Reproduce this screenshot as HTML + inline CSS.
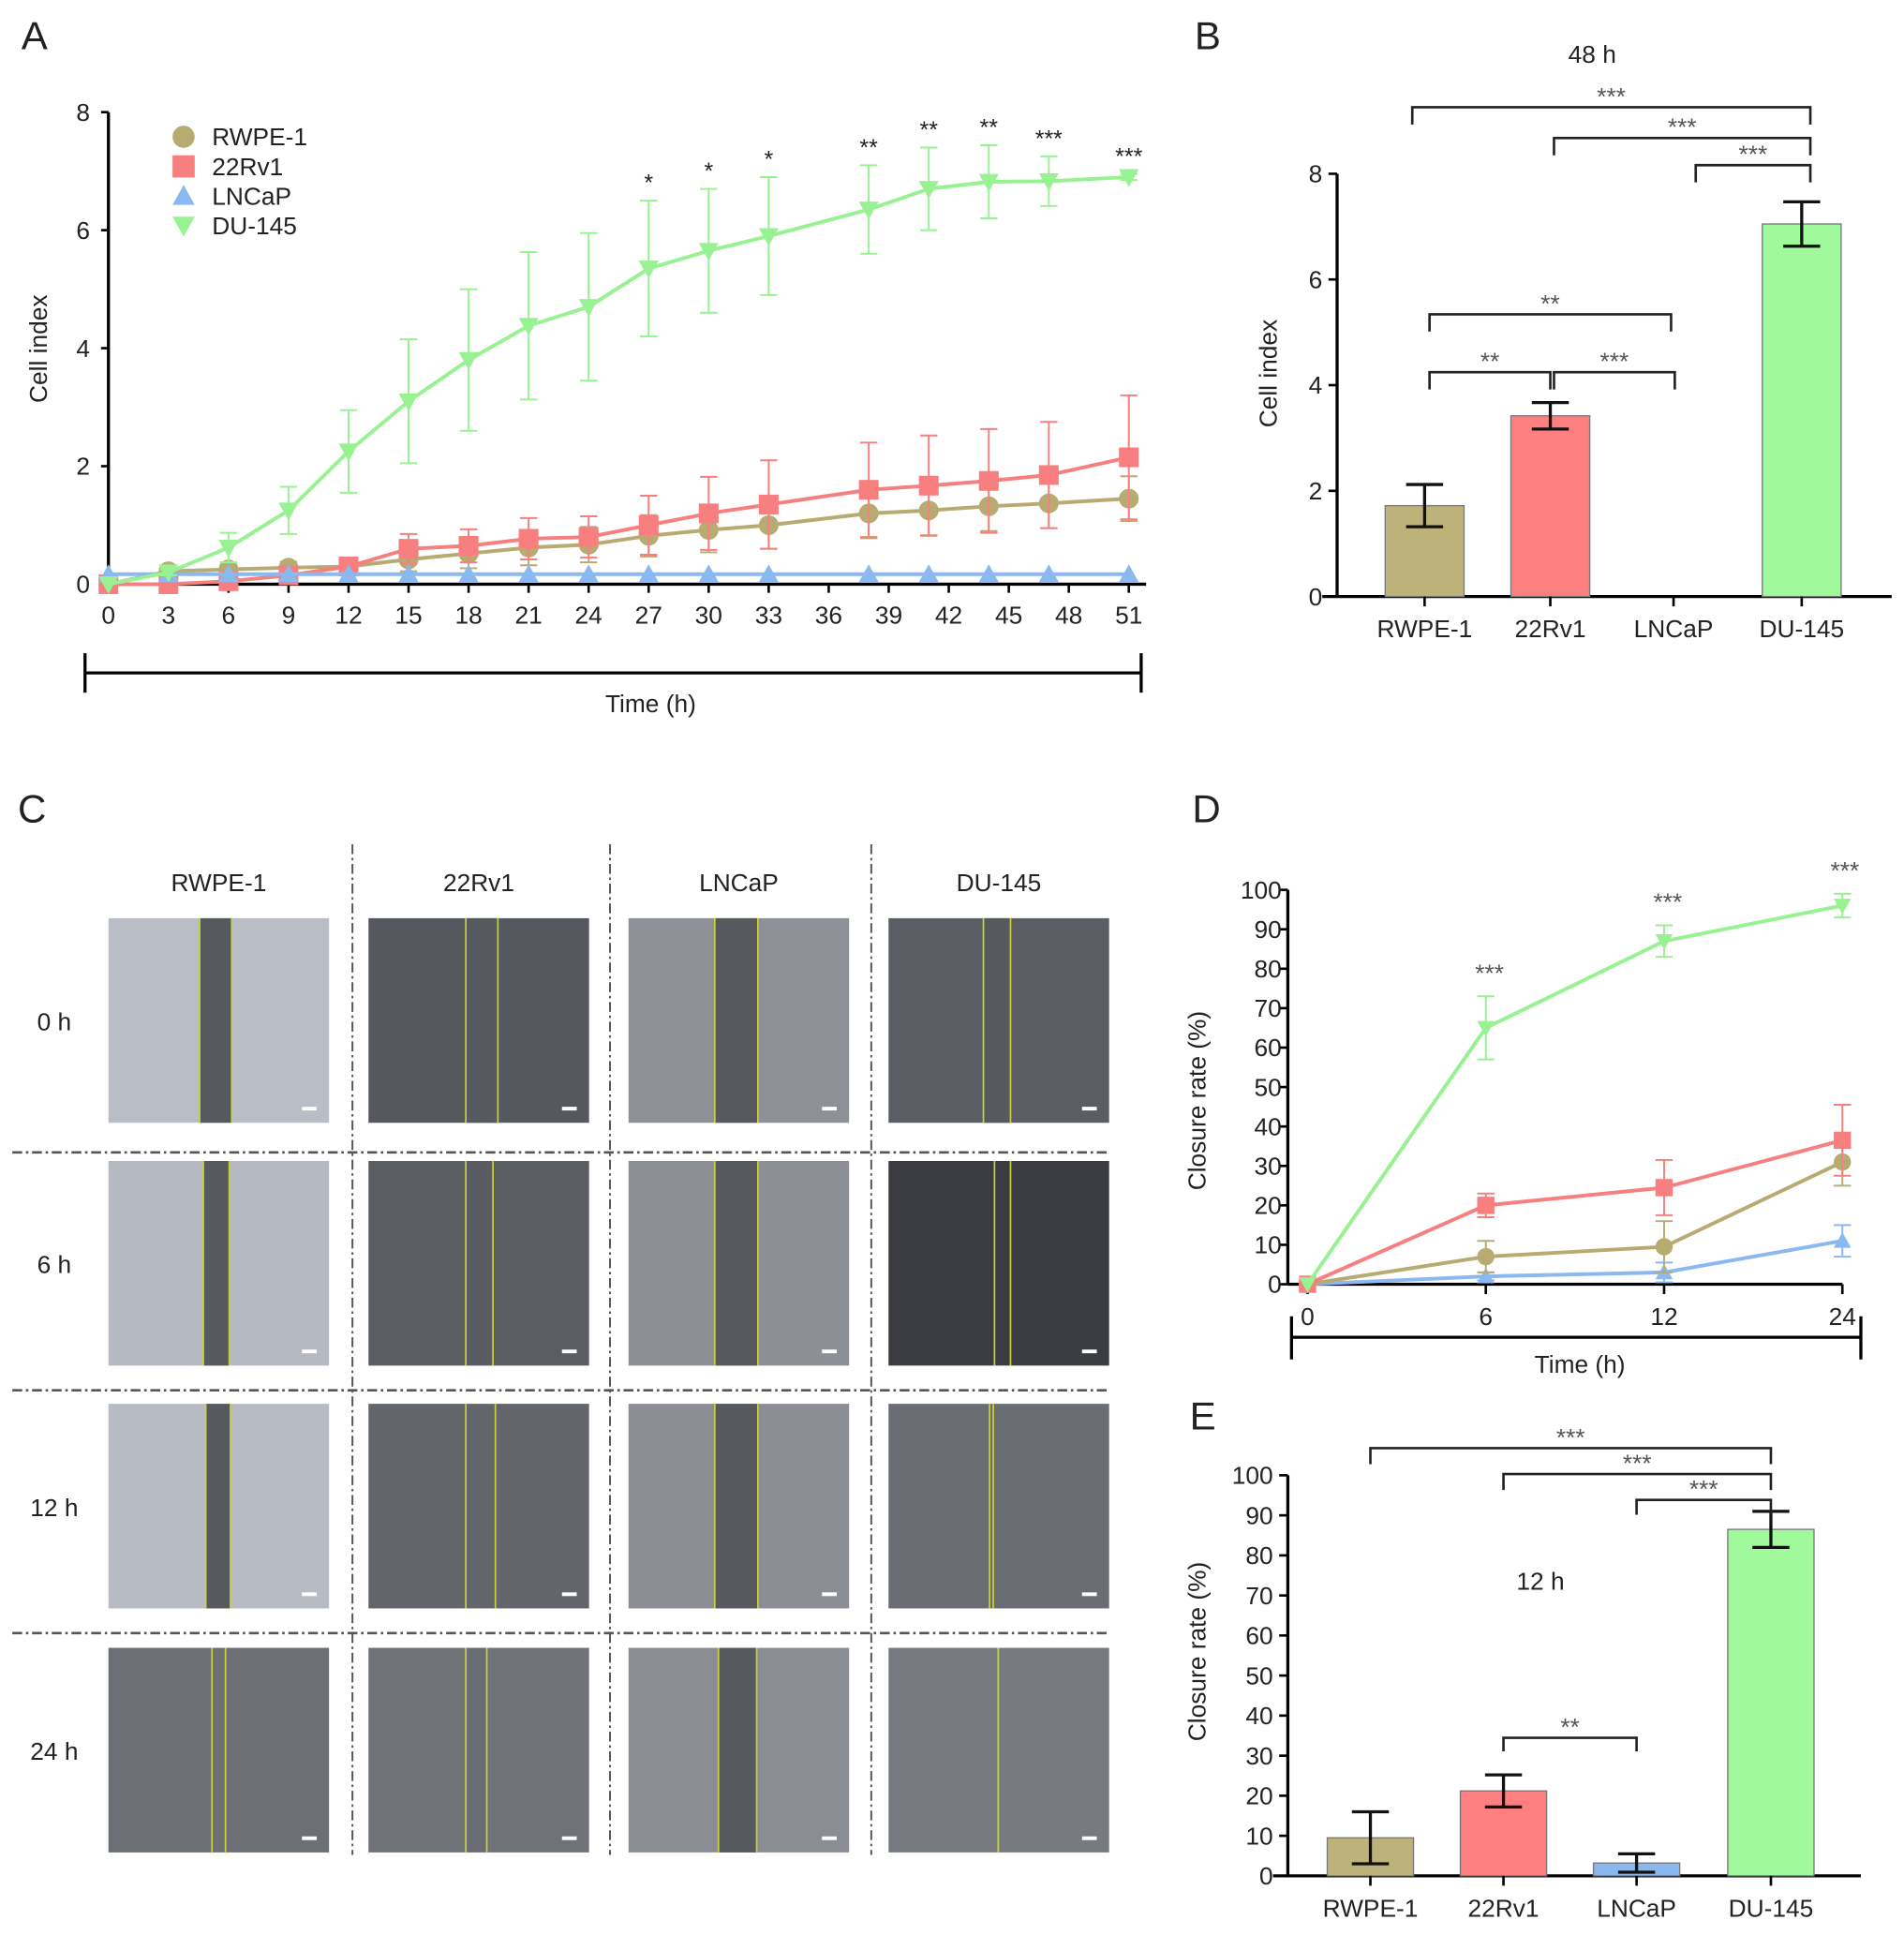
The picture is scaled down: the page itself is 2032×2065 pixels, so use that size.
<!DOCTYPE html>
<html><head><meta charset="utf-8"><style>
html,body{margin:0;padding:0;background:#fff;}
svg{display:block;font-family:"Liberation Sans",Arial,sans-serif;}
</style></head><body>
<svg id="fig" width="2032" height="2065" viewBox="0 0 1545 1570" preserveAspectRatio="none" xmlns="http://www.w3.org/2000/svg">
<rect width="1545" height="1570" fill="#fff"/>
<g id="A"></g>
<g id="B"></g>
<g id="C"></g>
<g id="D"></g>
<g id="E"></g>
</svg>
<script>
// ---------- data ----------
const groups = ["RWPE-1","22Rv1","LNCaP","DU-145"];
const aTimes = [0,3,6,9,12,15,18,21,24,27,30,33,38,41,44,47,51];
const aRWPE = [0,0.22,0.25,0.28,0.3,0.42,0.52,0.62,0.67,0.82,0.92,1.0,1.2,1.25,1.32,1.37,1.45];
const aRWPEerr = [0,0.05,0.08,0.1,0.1,0.2,0.25,0.3,0.3,0.35,0.38,0.4,0.42,0.42,0.42,0.42,0.38];
const a22Rv1 = [0,0,0.05,0.15,0.3,0.6,0.65,0.77,0.8,1.0,1.2,1.35,1.6,1.67,1.75,1.85,2.15];
const a22Rv1err = [0,0,0.05,0.1,0.15,0.25,0.28,0.35,0.35,0.5,0.62,0.75,0.8,0.85,0.88,0.9,1.05];
const aLNCaP = [0.17,0.17,0.17,0.17,0.17,0.17,0.17,0.17,0.17,0.17,0.17,0.17,0.17,0.17,0.17,0.17,0.17];
const aDU = [0,0.2,0.62,1.25,2.25,3.1,3.8,4.38,4.7,5.35,5.65,5.9,6.35,6.7,6.82,6.83,6.9];
const aDUerr = [0,0.05,0.25,0.4,0.7,1.05,1.2,1.25,1.25,1.15,1.05,1.0,0.75,0.7,0.62,0.42,0.05];
const aStarTimes = [27,30,33,38,41,44,47,51];
const aStars = ["*","*","*","**","**","**","***","***"];
const aYTicks = [0,2,4,6,8];
const aXTicks = [0,3,6,9,12,15,18,21,24,27,30,33,36,39,42,45,48,51];
const bValues = [1.72,3.42,0,7.05];
const bErr = [0.4,0.25,0,0.42];
const bYTicks = [0,2,4,6,8];
const dTimes = ["0","6","12","24"];
const dRWPE = [0,7,9.5,31]; const dRWPEerr=[0,4,6.5,6];
const d22Rv1 = [0,20,24.5,36.5]; const d22Rv1err=[0,3,7,9];
const dLNCaP = [0,2,3,11]; const dLNCaPerr=[0,1,2.5,4];
const dDU = [0,65,87,96]; const dDUerr=[0,8,4,3];
const dStars = ["","***","***","***"];
const dYTicks = [0,10,20,30,40,50,60,70,80,90,100];
const eValues = [9.5,21.2,3.2,86.5];
const eErr = [6.5,4,2.3,4.5];
const eYTicks = [0,10,20,30,40,50,60,70,80,90,100];
const woundTimes = ["0 h","6 h","12 h","24 h"];

const COL = {"RWPE-1":"#b8ab72","22Rv1":"#f77f7f","LNCaP":"#8ab9f2","DU-145":"#98f292"};
const BAR = {"RWPE-1":"#bdb27a","22Rv1":"#fd7f7f","LNCaP":"#8ab8ee","DU-145":"#a0f99a"};
const NS="http://www.w3.org/2000/svg";
function el(parent,tag,attrs,text){const e=document.createElementNS(NS,tag);for(const k in attrs)e.setAttribute(k,attrs[k]);if(text!==undefined)e.textContent=text;parent.appendChild(e);return e;}
function line(p,x1,y1,x2,y2,st,w,name){const e=el(p,"line",{x1,y1,x2,y2,stroke:st,"stroke-width":w});return e;}
function txt(p,x,y,s,size,anchor,name,extra){const e=el(p,"text",Object.assign({x,y,"font-size":size,"text-anchor":anchor||"middle",fill:"#222"},extra||{}),s);return e;}
function marker(p,type,x,y,r,c,name){let e;
 if(type==="RWPE-1")e=el(p,"circle",{cx:x,cy:y,r:r,fill:c});
 else if(type==="22Rv1")e=el(p,"rect",{x:x-r,y:y-r,width:2*r,height:2*r,fill:c});
 else if(type==="LNCaP")e=el(p,"polygon",{points:`${x},${y-r} ${x+r},${y+r*0.8} ${x-r},${y+r*0.8}`,fill:c});
 else e=el(p,"polygon",{points:`${x},${y+r} ${x+r},${y-r*0.8} ${x-r},${y-r*0.8}`,fill:c});
 return e;}

// ---------- Panel A ----------
const A=document.getElementById("A");
txt(A,28,40,"A",32,"middle","panel-label-a");
const ax=t=>88+t*(916-88)/51, ay=v=>474-v*(474-91)/8;
line(A,88,91,88,474,"#000",2.5,"y-axis");
line(A,88,474,930,474,"#000",2.5,"x-axis");
aYTicks.forEach(v=>{line(A,82,ay(v),88,ay(v),"#000",2,"y-tick");txt(A,73,ay(v)+7,String(v),20,"end","y-tick-label");});
aXTicks.forEach(t=>{line(A,ax(t),474,ax(t),481,"#000",2,"x-tick");txt(A,ax(t),506,String(t),20,"middle","x-tick-label");});
txt(A,38,283,"Cell index",20,"middle","y-axis-title",{transform:"rotate(-90 38 283)"});
line(A,69,546,926,546,"#000",2.5,"time-bracket");line(A,69,530,69,562,"#000",2.5,"time-bracket-end");line(A,926,530,926,562,"#000",2.5,"time-bracket-end");
txt(A,528,578,"Time (h)",20,"middle","x-axis-title");
const aSeries=[["RWPE-1",aRWPE,aRWPEerr],["22Rv1",a22Rv1,a22Rv1err],["LNCaP",aLNCaP,null],["DU-145",aDU,aDUerr]];
aSeries.forEach(([g,vals,err])=>{const c=COL[g];
 const gg=el(A,"g",{});
 if(err)vals.forEach((v,i)=>{if(err[i]>0){const x=ax(aTimes[i]);line(gg,x,ay(v-err[i]),x,ay(v+err[i]),c,1.5,"error-bar");line(gg,x-7,ay(v+err[i]),x+7,ay(v+err[i]),c,1.5,"error-cap");line(gg,x-7,ay(v-err[i]),x+7,ay(v-err[i]),c,1.5,"error-cap");}});
 const pl=el(gg,"polyline",{points:vals.map((v,i)=>ax(aTimes[i])+","+ay(v)).join(" "),fill:"none",stroke:c,"stroke-width":3});
 
 vals.forEach((v,i)=>marker(gg,g,ax(aTimes[i]),ay(v),8,c,"point"));
});
aStarTimes.forEach((t,i)=>{const k=aTimes.indexOf(t);txt(A,ax(t),ay(aDU[k]+aDUerr[k])-8,aStars[i],19,"middle","significance-stars");});
groups.forEach((g,i)=>{const y=111+i*24;marker(A,g,149,y,9,COL[g],"legend-marker");txt(A,172,y+7,g,20,"start","legend-entry");});

// ---------- bar helper ----------
function barPanel(P,cfg){
 const {x0,y0,yTop,maxV,ticks,vals,errs,centers,w,xEnd,fs}=cfg;
 const by=v=>y0-v*(y0-yTop)/maxV;
 line(P,x0,yTop,x0,y0,"#000",2.5,"y-axis");
 line(P,x0-12,y0,xEnd,y0,"#000",2.5,"x-axis");
 ticks.forEach(v=>{line(P,x0-7,by(v),x0,by(v),"#000",2,"y-tick");txt(P,x0-12,by(v)+7,String(v),fs,"end","y-tick-label");});
 groups.forEach((g,i)=>{const cx=centers[i];
  if(vals[i]>0){const r=el(P,"rect",{x:cx-w/2,y:by(vals[i]),width:w,height:y0-by(vals[i]),fill:BAR[g],stroke:"#777","stroke-width":1});}
  if(errs[i]>0){line(P,cx,by(vals[i]-errs[i]),cx,by(vals[i]+errs[i]),"#111",2.5,"error-bar");line(P,cx-15,by(vals[i]+errs[i]),cx+15,by(vals[i]+errs[i]),"#111",2.5,"error-cap");line(P,cx-15,by(vals[i]-errs[i]),cx+15,by(vals[i]-errs[i]),"#111",2.5,"error-cap");}
  line(P,cx,y0,cx,y0+8,"#000",2,"x-tick");
  txt(P,cx,y0+33,g,20,"middle","x-tick-label");
 });
 return by;
}
function bracket(P,x1,x2,y,d,s,name){const e=el(P,"polyline",{points:`${x1},${y+d} ${x1},${y} ${x2},${y} ${x2},${y+d}`,fill:"none",stroke:"#222","stroke-width":2});txt(P,(x1+x2)/2,y-2,s,20,"middle","significance-stars",{fill:"#555"});}

// ---------- Panel B ----------
const B=document.getElementById("B");
txt(B,980,40,"B",32,"middle","panel-label-b");
txt(B,1292,51,"48 h",20,"middle","chart-title");
barPanel(B,{x0:1085,y0:484,yTop:141,maxV:8,ticks:bYTicks,vals:bValues,errs:bErr,centers:[1156,1258,1358,1462],w:64,xEnd:1535,fs:20});
txt(B,1036,303,"Cell index",20,"middle","y-axis-title",{transform:"rotate(-90 1036 303)"});
bracket(B,1146,1469,87,14,"***","bracket-rwpe-du");
bracket(B,1261,1469,112,14,"***","bracket-22rv1-du");
bracket(B,1376,1469,134,14,"***","bracket-lncap-du");
bracket(B,1160,1356,255,14,"**","bracket-rwpe-lncap");
bracket(B,1160,1258,302,14,"**","bracket-rwpe-22rv1");
bracket(B,1261,1359,302,14,"***","bracket-22rv1-lncap");

// ---------- Panel C ----------
const C=document.getElementById("C");
txt(C,26,667,"C",32,"middle","panel-label-c");
const colX=[88,299,510,721], rowY=[745,942,1139,1337], cw=179, ch=166;
const bg=[["#b9bdc5","#55585e","#8d9096","#5a5d63"],["#b5b9c1","#5a5d62","#8c8f95","#3a3c41"],["#b7bbc3","#62656b","#8b8e94","#6a6d73"],["#6c6f76","#6f7278","#8a8d93","#777a80"]];
const gaps=[[[162,188],[378,404],[580,615],[798,820]],[[165,186],[378,400],[580,615],[807,820]],[[167,187],[378,402],[580,615],[803,806]],[[172,183],[378,395],[583,614],[810,810]]];
const gapFill=[[1,1,1,1],[1,0.3,1,0],[1,0,1,0],[0,0.2,1,0]];
groups.forEach((g,j)=>txt(C,colX[j]+cw/2,723,g,20,"middle","column-label"));
woundTimes.forEach((t,i)=>txt(C,44,rowY[i]+ch/2+8,t,20,"middle","row-label"));
rowY.forEach((y,i)=>colX.forEach((x,j)=>{
 const cell=el(C,"g",{});
 el(cell,"rect",{x,y,width:cw,height:ch,fill:bg[i][j]});
 const [g1,g2]=gaps[i][j];
 if(gapFill[i][j]>0)el(cell,"rect",{x:g1,y,width:g2-g1,height:ch,fill:"#56595d","fill-opacity":gapFill[i][j]});
 el(cell,"line",{x1:g1,y1:y,x2:g1,y2:y+ch,stroke:"#c9d23a","stroke-width":1.3});
 el(cell,"line",{x1:g2,y1:y,x2:g2,y2:y+ch,stroke:"#c9d23a","stroke-width":1.3});
 el(cell,"rect",{x:x+cw-22,y:y+ch-13,width:12,height:3,fill:"#fff"});
}));
[286,495,707].forEach(x=>line(C,x,685,x,1505,"#555",1.5,"column-separator").setAttribute("stroke-dasharray","8 3 2 3"));
[935,1128,1325].forEach(y=>line(C,10,y,898,y,"#555",2,"row-separator").setAttribute("stroke-dasharray","8 3 2 3"));

// ---------- Panel D ----------
const D=document.getElementById("D");
txt(D,979,667,"D",32,"middle","panel-label-d");
const dx=i=>1061+i*(1495-1061)/3, dy=v=>1042-v*(1042-722)/100;
line(D,1045,722,1045,1042,"#000",2.5,"y-axis");
line(D,1045,1042,1495,1042,"#000",2.5,"x-axis");
dYTicks.forEach(v=>{line(D,1039,dy(v),1045,dy(v),"#000",2,"y-tick");txt(D,1040,dy(v)+7,String(v),20,"end","y-tick-label");});
dTimes.forEach((t,i)=>{line(D,dx(i),1042,dx(i),1050,"#000",2,"x-tick");txt(D,dx(i),1075,t,20,"middle","x-tick-label");});
line(D,1048,1085,1510,1085,"#000",2.5,"time-bracket");line(D,1048,1068,1048,1103,"#000",2.5,"time-bracket-end");line(D,1510,1068,1510,1103,"#000",2.5,"time-bracket-end");
txt(D,1282,1114,"Time (h)",20,"middle","x-axis-title");
txt(D,978,893,"Closure rate (%)",20,"middle","y-axis-title",{transform:"rotate(-90 978 893)"});
[["LNCaP",dLNCaP,dLNCaPerr],["RWPE-1",dRWPE,dRWPEerr],["22Rv1",d22Rv1,d22Rv1err],["DU-145",dDU,dDUerr]].forEach(([g,vals,err])=>{const c=COL[g];
 const gg=el(D,"g",{});
 vals.forEach((v,i)=>{if(err[i]>0){const x=dx(i);line(gg,x,dy(v-err[i]),x,dy(v+err[i]),c,1.5,"error-bar");line(gg,x-7,dy(v+err[i]),x+7,dy(v+err[i]),c,1.5,"error-cap");line(gg,x-7,dy(v-err[i]),x+7,dy(v-err[i]),c,1.5,"error-cap");}});
 const pl=el(gg,"polyline",{points:vals.map((v,i)=>dx(i)+","+dy(v)).join(" "),fill:"none",stroke:c,"stroke-width":3});
 
 vals.forEach((v,i)=>marker(gg,g,dx(i),dy(v),7,c,"point"));
});
dStars.forEach((s,i)=>{if(s)txt(D,dx(i)+(i===3?2:3),dy(dDU[i]+dDUerr[i])-12,s,20,"middle","significance-stars",{fill:"#555"});});

// ---------- Panel E ----------
const E=document.getElementById("E");
txt(E,976,1160,"E",32,"middle","panel-label-e");
barPanel(E,{x0:1045,y0:1522,yTop:1197,maxV:100,ticks:eYTicks,vals:eValues,errs:eErr,centers:[1112,1220,1328,1437],w:70,xEnd:1510,fs:20});
txt(E,978,1340,"Closure rate (%)",20,"middle","y-axis-title",{transform:"rotate(-90 978 1340)"});
txt(E,1250,1290,"12 h",20,"middle","chart-title");
bracket(E,1112,1437,1175,13,"***","bracket-rwpe-du");
bracket(E,1220,1437,1196,13,"***","bracket-22rv1-du");
bracket(E,1328,1437,1217,12,"***","bracket-lncap-du");
bracket(E,1220,1328,1410,11,"**","bracket-22rv1-lncap");
</script>
</body></html>
